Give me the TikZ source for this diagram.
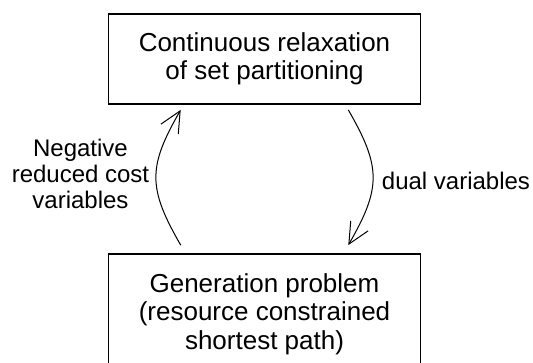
\documentclass[tikz,border=0pt]{standalone}
\usepackage{fontspec}
\setmainfont{Liberation Sans}
\usetikzlibrary{arrows.meta}

\begin{document}
\begin{tikzpicture}[x=1pt, y=1pt,
    box/.style={draw, line width=1.2pt, minimum width=312.5pt, align=center,
      inner sep=0pt, font=\fontsize{26}{28.3}\selectfont},
    flow/.style={line width=1pt, -{Straight Barb[length=21pt, width=20pt]},
      bend left=30, looseness=1.25},
    lbl/.style={align=center, font=\fontsize{24}{26}\selectfont}]
    \useasboundingbox (0,0) rectangle (533,-362);
    \clip (0,0) rectangle (533,-362);

    \node[box, minimum height=90pt] (relax) at (264.5,-59) {Continuous relaxation\\of set partitioning};
    \node[box, minimum height=120pt] (pricing) at (264.5,-314) {Generation problem\\(resource constrained\\shortest path)};

    \coordinate (relaxL) at ([xshift=-83.8pt, yshift=-5.3pt]relax.south);
    \coordinate (relaxR) at ([xshift=83.8pt, yshift=-5.3pt]relax.south);
    \coordinate (pricingL) at ([xshift=-83.8pt, yshift=8.3pt]pricing.north);
    \coordinate (pricingR) at ([xshift=83.8pt, yshift=8.3pt]pricing.north);

    \draw[flow] (pricingL) to (relaxL);
    \draw[flow] (relaxR) to (pricingR);

    \node[lbl] (negcost) at (80.5,-174.4) {Negative\\reduced cost\\variables};
    \node[lbl, anchor=base] (duals) at (456,-189) {dual variables};
\end{tikzpicture}
\end{document}
